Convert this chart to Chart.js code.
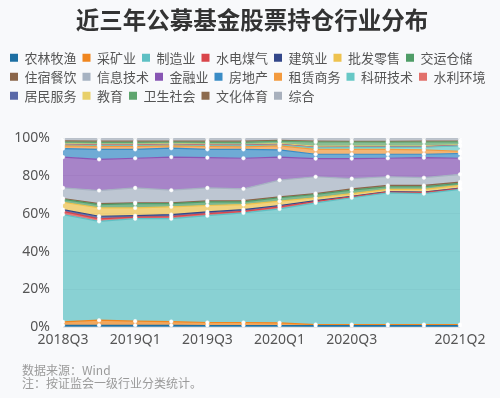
<!DOCTYPE html>
<html>
<head>
<meta charset="utf-8">
<script src="https://cdn.jsdelivr.net/npm/chart.js"></script>
<style>
  html, body { margin: 0; padding: 0; background: #f8f9fb; }
  #wrap { width: 500px; height: 398px; }
</style>
</head>
<body>
<div id="wrap"><canvas id="areachart"></canvas></div>
<script>
const quarters = ["2018Q3", "2018Q4", "2019Q1", "2019Q2", "2019Q3", "2019Q4",
  "2020Q1", "2020Q2", "2020Q3", "2020Q4", "2021Q1", "2021Q2"];
const shownTicks = ["2018Q3", "2019Q1", "2019Q3", "2020Q1", "2020Q3", "2021Q2"];
const yTicks = [0, 20, 40, 60, 80, 100];

const industries = ["农林牧渔", "采矿业", "制造业", "水电煤气", "建筑业", "批发零售", "交运仓储",
  "住宿餐饮", "信息技术", "金融业", "房地产", "租赁商务", "科研技术", "水利环境",
  "居民服务", "教育", "卫生社会", "文化体育", "综合"];

// share of fund stock holdings, %
const agri        = [1.0, 1.0, 1.0, 1.0, 0.9, 0.9, 0.9, 0.8, 0.8, 0.8, 0.8, 0.8];
const mining      = [1.8, 2.7, 2.2, 2.0, 1.6, 1.6, 1.4, 0.6, 0.6, 0.6, 0.6, 0.6];
const manufacture = [56.8, 52.3, 54.2, 54.4, 56.5, 58.0, 60.3, 64.4, 67.1, 69.7, 69.3, 71.5];
const utilities   = [1.7, 1.3, 0.8, 1.1, 1.1, 0.8, 1.1, 0.7, 0.5, 0.4, 0.5, 0.4];
const building    = [0.9, 1.4, 0.8, 1.1, 0.9, 0.9, 0.7, 0.5, 0.3, 0.3, 0.3, 0.3];
const trade       = [3.9, 4.4, 4.1, 4.1, 3.4, 2.7, 2.3, 1.5, 1.4, 1.1, 1.4, 1.4];
const transport   = [1.5, 1.8, 2.3, 1.7, 1.9, 1.4, 1.8, 1.7, 1.8, 1.4, 1.4, 1.1];
const hotel       = [0.5, 0.5, 0.4, 0.4, 0.5, 0.7, 0.5, 0.5, 0.7, 0.7, 0.7, 0.7];
const infotech    = [5.6, 6.9, 7.9, 6.7, 6.9, 6.2, 8.8, 8.9, 5.4, 4.6, 4.1, 4.1];
const finance     = [16.3, 16.5, 15.7, 17.5, 16.0, 16.2, 12.2, 9.6, 10.6, 9.8, 10.6, 8.5];
const realestate  = [4.5, 5.3, 4.7, 4.7, 4.4, 4.7, 3.8, 2.3, 2.3, 2.1, 1.8, 2.5];
const leasing     = [1.4, 1.5, 1.5, 1.2, 1.5, 1.3, 2.1, 2.6, 2.6, 2.6, 2.3, 1.2];
const research    = [0.4, 0.4, 0.4, 0.4, 0.4, 0.5, 0.5, 0.8, 0.9, 1.0, 1.4, 2.8];
const environment = [0.3, 0.3, 0.3, 0.3, 0.3, 0.3, 0.2, 0.2, 0.2, 0.2, 0.2, 0.2];
const services    = [0.1, 0.1, 0.1, 0.1, 0.1, 0.1, 0.1, 0.1, 0.1, 0.1, 0.1, 0.1];
const education   = [0.3, 0.3, 0.3, 0.3, 0.3, 0.3, 0.4, 0.5, 0.5, 0.4, 0.4, 0.3];
const health      = [1.0, 1.1, 1.1, 1.0, 1.1, 1.2, 1.4, 2.3, 2.2, 2.1, 2.1, 1.6];
const culture     = [0.6, 0.6, 0.6, 0.5, 0.6, 0.6, 0.4, 0.4, 0.3, 0.4, 0.4, 0.3];
const misc        = [1.4, 1.6, 1.6, 1.5, 1.6, 1.6, 1.1, 1.6, 1.7, 1.7, 1.6, 1.6];

const series = [agri, mining, manufacture, utilities, building, trade, transport, hotel,
  infotech, finance, realestate, leasing, research, environment, services, education,
  health, culture, misc];

const colors = ["#1d6fa3", "#f0861f", "#5ec0c4", "#d9454a", "#33478a", "#eec24e", "#4f9d67",
  "#8a6549", "#a6b2c2", "#8856b4", "#3a8cc6", "#f39a3e", "#67c8c6", "#e2706b",
  "#5a68a8", "#e8d06a", "#5ea56e", "#8d6b4e", "#a8b0bd"];

function alpha(hex, a) {
  const n = parseInt(hex.slice(1), 16);
  return "rgba(" + (n >> 16) + "," + ((n >> 8) & 255) + "," + (n & 255) + "," + a + ")";
}

const font = '"Noto Sans CJK SC", "Noto Sans", sans-serif';

const extras = {
  id: "extras",
  afterInit(chart) {
    // leave a gap between legend and plot
    const legend = chart.legend;
    const fit = legend.fit;
    legend.fit = function () {
      fit.call(this);
      this.height += 26;
    };
  },
  beforeDraw(chart) {
    const c = chart.ctx;
    c.save();
    c.fillStyle = "#f8f9fb";
    c.fillRect(0, 0, chart.width, chart.height);
    c.restore();
  },
  afterDraw(chart) {
    const c = chart.ctx;
    c.save();
    c.fillStyle = "#9a9a9a";
    c.font = "12px " + font;
    c.textBaseline = "middle";
    c.fillText("数据来源：Wind", 22, 370);
    c.fillText("注：按证监会一级行业分类统计。", 22, 383);
    c.restore();
  }
};

const ctx = document.getElementById("areachart").getContext("2d");
const areachart = new Chart(ctx, {
  type: "line",
  data: {
    labels: quarters,
    datasets: series.map((values, i) => ({
      label: industries[i],
      data: values,
      fill: i === 0 ? "origin" : "-1",
      backgroundColor: alpha(colors[i], 0.72),
      borderColor: colors[i],
      borderWidth: 1.2,
      tension: 0,
      pointRadius: 1.8,
      pointBackgroundColor: "#ffffff",
      pointBorderColor: "rgba(255,255,255,0.9)",
      pointBorderWidth: 0.5,
    })),
  },
  options: {
    responsive: true,
    maintainAspectRatio: false,
    animation: false,
    layout: {
      padding: { left: 4, right: 0, top: 0, bottom: 46 },
    },
    plugins: {
      title: {
        display: true,
        text: "近三年公募基金股票持仓行业分布",
        color: "#333333",
        font: { family: font, size: 23.5, weight: "bold" },
        padding: { top: 6, bottom: 11 },
      },
      legend: {
        position: "top",
        align: "start",
        labels: {
          boxWidth: 8,
          boxHeight: 8,
          padding: 6,
          color: "#555555",
          font: { family: font, size: 13 },
          generateLabels: (chart) => chart.data.datasets.map((d, i) => ({
            text: d.label,
            fillStyle: colors[i],
            strokeStyle: colors[i],
            lineWidth: 0,
            hidden: false,
            datasetIndex: i,
            fontColor: "#555555",
          })),
        },
      },
      tooltip: { enabled: false },
    },
    scales: {
      x: {
        offset: false,
        grid: { display: false, drawTicks: false },
        border: { display: false },
        ticks: {
          autoSkip: false,
          maxRotation: 0,
          padding: 4,
          color: "#555555",
          font: { family: '"Noto Sans", sans-serif', size: 14 },
          callback: function (value, index) {
            const label = quarters[index];
            return shownTicks.includes(label) ? label : "";
          },
        },
      },
      y: {
        stacked: true,
        min: 0,
        max: 100,
        afterFit: (scale) => { scale.width = 59; },
        afterBuildTicks: (scale) => {
          scale.ticks = yTicks.map((v) => ({ value: v }));
        },
        grid: { color: "rgba(0,0,0,0.07)", drawTicks: false },
        border: { display: false },
        ticks: {
          padding: 13,
          color: "#555555",
          font: { family: '"Noto Sans", sans-serif', size: 14 },
          callback: (v) => v + "%",
        },
      },
      yRight: {
        position: "right",
        display: true,
        grid: { display: false, drawTicks: false },
        border: { display: false },
        ticks: { display: false },
        afterFit: (scale) => { scale.width = 40; },
      },
    },
  },
  plugins: [extras],
});
</script>
</body>
</html>
